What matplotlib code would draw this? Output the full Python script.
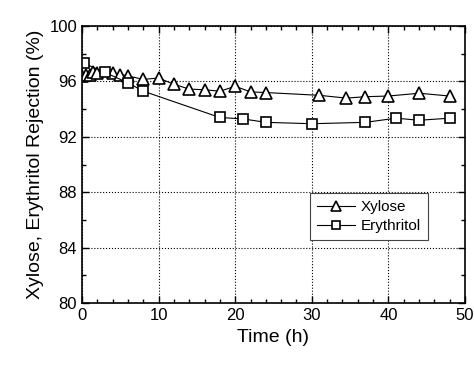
import matplotlib.pyplot as plt
from matplotlib.ticker import MultipleLocator

plt.rcParams['font.family'] = ['Liberation Sans', 'DejaVu Sans']

# xylose rejection over time
xyl_t = [0, 0.5, 1, 1.5, 2, 4, 5, 6, 8, 10, 12, 14, 16, 18, 20, 22, 24,
         31, 34.5, 37, 40, 44, 48]
xyl_r = [96.4, 96.5, 96.5, 96.7, 96.6, 96.6, 96.5, 96.4, 96.15, 96.25, 95.8,
         95.45, 95.4, 95.3, 95.65, 95.25, 95.2, 95.0, 94.8, 94.9, 94.95,
         95.15, 94.95]

# erythritol rejection over time
ery_t = [0.3, 3, 6, 8, 18, 21, 24, 30, 37, 41, 44, 48]
ery_r = [97.3, 96.65, 95.9, 95.3, 93.4, 93.3, 93.05, 92.95, 93.05, 93.35,
         93.2, 93.35]

fig = plt.figure(figsize=(4.74, 3.67), dpi=100)
ax = fig.add_axes([0.173, 0.174, 0.808, 0.755])

ax.plot(xyl_t, xyl_r, '-', color='black', lw=0.8, marker='^', ms=9,
        mfc='white', mec='black', mew=1.2, label='Xylose')
ax.plot(ery_t, ery_r, '-', color='black', lw=0.8, marker='s', ms=7.5,
        mfc='white', mec='black', mew=1.2, label='Erythritol')

ax.set_xlim(0, 50)
ax.set_ylim(80, 100)
ax.xaxis.set_major_locator(MultipleLocator(10))
ax.xaxis.set_minor_locator(MultipleLocator(2))
ax.yaxis.set_major_locator(MultipleLocator(4))
ax.yaxis.set_minor_locator(MultipleLocator(2))
ax.tick_params(which='both', direction='in', top=True, right=True,
               labelsize=12, width=1)
ax.tick_params(which='major', length=5)
ax.tick_params(which='minor', length=3)
for s in ax.spines.values():
    s.set_linewidth(1.2)
ax.grid(True, which='major', linestyle=':', color='black', lw=0.8)

ax.set_xlabel('Time (h)', fontsize=14)
ax.set_ylabel('Xylose, Erythritol Rejection (%)', fontsize=14)

leg = ax.legend(loc='upper right', bbox_to_anchor=(0.903, 0.397),
                borderaxespad=0, fontsize=11, frameon=True, fancybox=False,
                edgecolor='#444444', framealpha=1, markerscale=0.8,
                handlelength=2.5, handletextpad=0.4, borderpad=0.45,
                labelspacing=0.35)
leg.get_frame().set_linewidth(0.8)

fig.savefig('out.png', dpi=100)
